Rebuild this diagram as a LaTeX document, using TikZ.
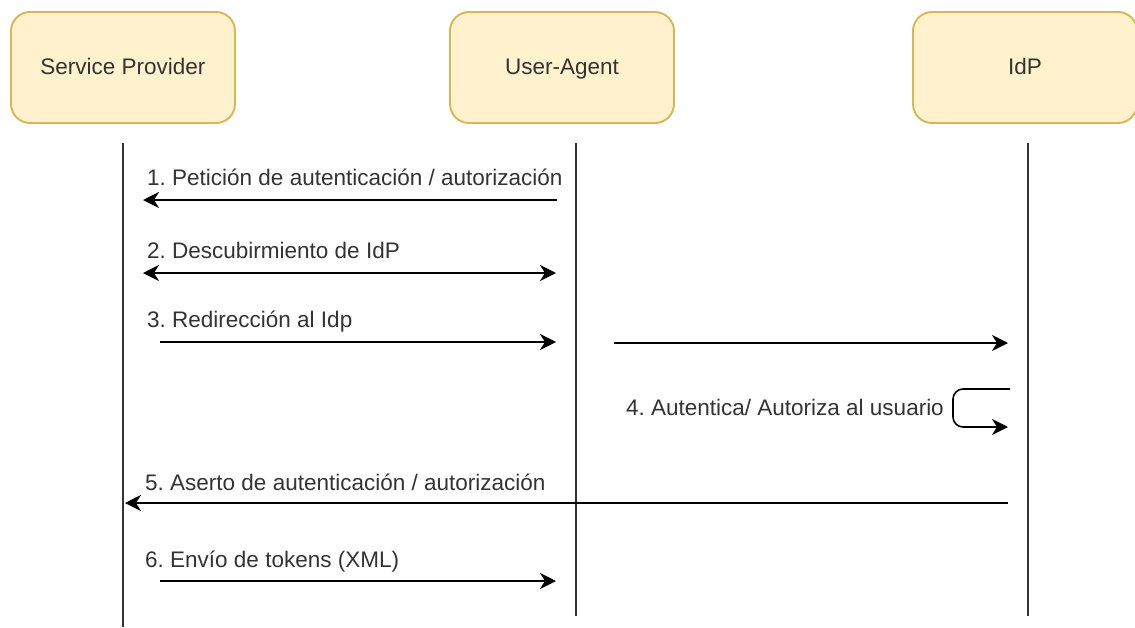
\documentclass[tikz,border=0pt]{standalone}
\usepackage{fontspec}
\setmainfont{Liberation Sans}
\usetikzlibrary{arrows.meta}
\definecolor{actorfill}{HTML}{FFF2CC}
\definecolor{actorline}{HTML}{D6B656}
\definecolor{txtgray}{HTML}{333333}
\tikzset{actor/.style={draw=actorline, fill=actorfill, line width=1.9pt,
    rounded corners=19pt, minimum width=224pt, minimum height=111pt,
    text=txtgray, inner sep=0pt, text height=16pt, text depth=3pt},
  tip/.tip={Stealth[length=16pt,width=16pt,inset=5pt]},
  msg/.style={-tip, line width=1.9pt},
  lifeline/.style={line width=1.9pt, draw=txtgray},
  msglabel/.style={anchor=base west, text=txtgray, inner sep=0pt}}

\begin{document}
\frenchspacing
\begin{tikzpicture}[x=1pt, y=-1pt, font=\fontsize{22.5}{27}\selectfont]
  \useasboundingbox (0,0) rectangle (1135,627);

  % actors
  \node[actor] (sp) at (123,67.5) {Service Provider};
  \node[actor] (ua) at (562,67.5) {User-Agent};
  \node[actor] (idp) at (1025,67.5) {IdP};

  % lifelines
  \coordinate (sptop) at (123,143);
  \coordinate (spbot) at (123,627);
  \coordinate (uatop) at (576,143);
  \coordinate (uabot) at (576,616);
  \coordinate (idptop) at (1028,143);
  \coordinate (idpbot) at (1028,616);
  \draw[lifeline] (sptop) -- (spbot);
  \draw[lifeline] (uatop) -- (uabot);
  \draw[lifeline] (idptop) -- (idpbot);

  % 1
  \coordinate (ua1) at (557,200);
  \coordinate (sp1) at (143,200);
  \draw[msg] (ua1) -- (sp1);
  \node[msglabel] (lbl1) at (147,185) {1. Petición de autenticación / autorización};

  % 2
  \coordinate (sp2) at (143,273);
  \coordinate (ua2) at (556,273);
  \draw[msg, tip-tip] (sp2) -- (ua2);
  \node[msglabel] (lbl2) at (147,258) {2. Descubirmiento de IdP};

  % 3
  \coordinate (sp3) at (160,342);
  \coordinate (ua3) at (556,342);
  \draw[msg] (sp3) -- (ua3);
  \node[msglabel] (lbl3) at (147,327) {3. Redirección al Idp};
  \coordinate (ua3b) at (614,343);
  \coordinate (idp3) at (1008,343);
  \draw[msg] (ua3b) -- (idp3);

  % 4
  \coordinate (idp4a) at (1010,389);
  \coordinate (idp4b) at (1008,427);
  \draw[msg, line width=1.6pt, rounded corners=10pt]
  (idp4a) -- ++(-57,0) -- ++(0,38) -- (idp4b);
  \node[msglabel, anchor=base east] (lbl4) at (944,415) {4. Autentica/ Autoriza al usuario};

  % 5
  \coordinate (idp5) at (1008,503);
  \coordinate (sp5) at (125,503);
  \draw[msg] (idp5) -- (sp5);
  \node[msglabel] (lbl5) at (145,490) {5. Aserto de autenticación / autorización};

  % 6
  \coordinate (sp6) at (160,581);
  \coordinate (ua6) at (556,581);
  \draw[msg] (sp6) -- (ua6);
  \node[msglabel] (lbl6) at (145,567) {6. Envío de tokens (XML)};

\end{tikzpicture}
\end{document}
